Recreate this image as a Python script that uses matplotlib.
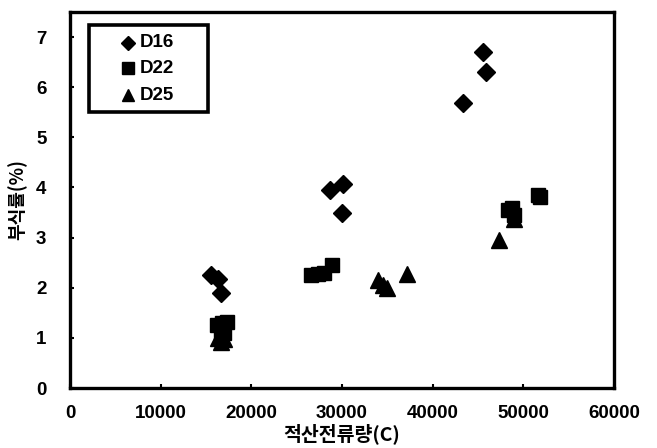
import matplotlib
matplotlib.use("Agg")
import matplotlib.pyplot as plt
from matplotlib.patches import Rectangle

d16_x = [15500, 16300, 16600, 28700, 30100, 30000, 43400, 45600, 45900]
d16_y = [2.25, 2.18, 1.89, 3.94, 4.07, 3.50, 5.69, 6.70, 6.30]
d22_x = [16200, 16800, 17300, 16600, 17000, 26600, 27300, 28000, 28900, 48300, 48700, 49000, 51600, 51800]
d22_y = [1.25, 1.30, 1.32, 1.05, 1.10, 2.25, 2.28, 2.30, 2.45, 3.55, 3.60, 3.45, 3.85, 3.80]
d25_x = [16300, 16700, 17000, 34000, 34500, 35000, 37200, 47300, 49000]
d25_y = [1.00, 0.92, 0.97, 2.15, 2.05, 2.00, 2.28, 2.96, 3.38]

series_names = ['D16', 'D22', 'D25']
xticks = [0, 10000, 20000, 30000, 40000, 50000, 60000]
yticks = [0, 1, 2, 3, 4, 5, 6, 7]

plt.rcParams['font.family'] = ['Liberation Sans', 'Noto Sans CJK KR', 'DejaVu Sans']
plt.rcParams['font.weight'] = 'bold'

fig = plt.figure(figsize=(6.57, 4.48), dpi=100)
ax = fig.add_axes([70/657, 1-388/448, (614-70)/657, (388-12)/448])

markers = ['D', 's', '^']
sizes = [9, 10, 11]
for xs, ys, m, ms, name in zip([d16_x, d22_x, d25_x], [d16_y, d22_y, d25_y], markers, sizes, series_names):
    ax.plot(xs, ys, linestyle='none', marker=m, markersize=ms, color='black', label=name)

ax.set_xlim(0, 60000)
ax.set_ylim(0, 7.5)
ax.set_xticks(xticks)
ax.set_yticks(yticks)
ax.set_xticklabels([str(t) for t in xticks], fontsize=13.5, fontweight='bold')
ax.set_yticklabels([str(t) for t in yticks], fontsize=13.5, fontweight='bold')
ax.tick_params(axis='x', direction='in', length=3, width=1.5, pad=12)
ax.tick_params(axis='y', direction='in', length=3, width=1.5, pad=17)
for s in ax.spines.values():
    s.set_linewidth(2.4)

ax.set_xlabel('적산전류량(C)', fontsize=14, fontweight='bold',
              family=['Noto Sans CJK KR', 'DejaVu Sans'], labelpad=1)
ax.set_ylabel('부식률(%)', fontsize=13, fontweight='bold',
              family=['Noto Sans CJK KR', 'DejaVu Sans'], labelpad=6)

# legend box (drawn in axes coordinates)
ax.add_patch(Rectangle((0.035, 0.734), 0.219, 0.2315, transform=ax.transAxes,
                       facecolor='white', edgecolor='black', linewidth=2.6,
                       zorder=5, clip_on=False))
leg_rows_y = [0.9176, 0.851, 0.779]
leg_ms = [7, 8, 8.5]
for yy, m, ms, name in zip(leg_rows_y, markers, leg_ms, series_names):
    ax.plot([0.1066], [yy], transform=ax.transAxes, linestyle='none', marker=m,
            markersize=ms, color='black', zorder=6, clip_on=False)
    ax.text(0.1287, yy, name, transform=ax.transAxes, va='center', ha='left',
            fontsize=13.5, fontweight='bold', zorder=6)

fig.savefig('out.png', dpi=100)
